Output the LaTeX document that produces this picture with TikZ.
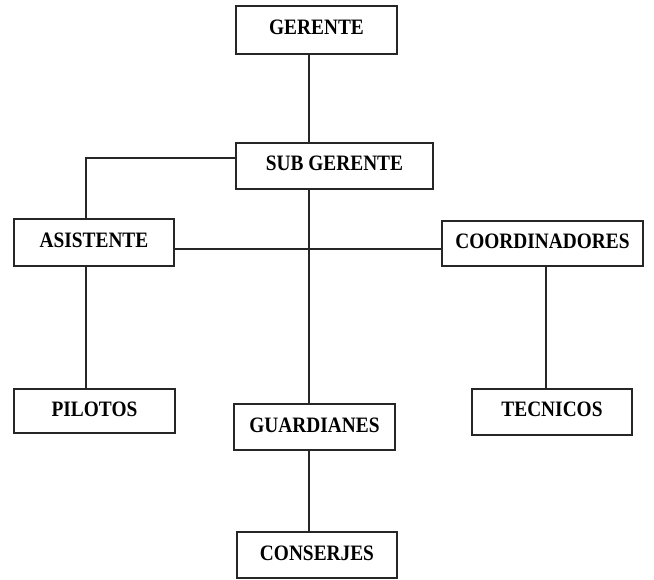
\documentclass[tikz,border=0pt]{standalone}
\usepackage{fontspec}
\newfontfamily\boxfont[FakeStretch=0.88]{Liberation Serif}
\begin{document}
\begin{tikzpicture}[x=1pt,y=-1pt,
  box/.style={draw=black!85,line width=1.6pt,fill=white,inner sep=0pt,
    font=\boxfont\bfseries\fontsize{22}{26}\selectfont,
    text height=15pt,text depth=5pt},
  conn/.style={draw=black!85,line width=1.6pt}]
\useasboundingbox (0,0) rectangle (654,580);
\fill[white] (0,0) rectangle (654,580);
\coordinate (tr) at (309,0);
\coordinate (lf) at (86,0);
\coordinate (rt) at (546,0);
\node[box,minimum width=161pt,minimum height=48pt] (ger) at (316.5,30) {GERENTE};
\node[box,minimum width=197pt,minimum height=46pt] (sub) at (334.5,166) {SUB GERENTE};
\node[box,minimum width=160pt,minimum height=47pt] (asi) at (94,242.5) {ASISTENTE};
\node[box,minimum width=201pt,minimum height=45pt] (coo) at (542.5,243.5) {COORDINADORES};
\node[box,minimum width=161pt,minimum height=44pt] (pil) at (94.5,411) {PILOTOS};
\node[box,minimum width=161pt,minimum height=46pt] (gua) at (314.5,427) {GUARDIANES};
\node[box,minimum width=160pt,minimum height=46pt] (tec) at (552,412) {TECNICOS};
\node[box,minimum width=160pt,minimum height=46pt] (con) at (317,555) {CONSERJES};
\coordinate (sl) at (236,158);
\coordinate (al) at (174,249);
\draw[conn] (ger.south -| tr) -- (sub.north -| tr);
\draw[conn] (sl) -| (asi.north -| lf);
\draw[conn] (al) -- (al -| coo.west);
\draw[conn] (sub.south -| tr) -- (gua.north -| tr);
\draw[conn] (gua.south -| tr) -- (con.north -| tr);
\draw[conn] (asi.south -| lf) -- (pil.north -| lf);
\draw[conn] (coo.south -| rt) -- (tec.north -| rt);
\end{tikzpicture}
\end{document}
